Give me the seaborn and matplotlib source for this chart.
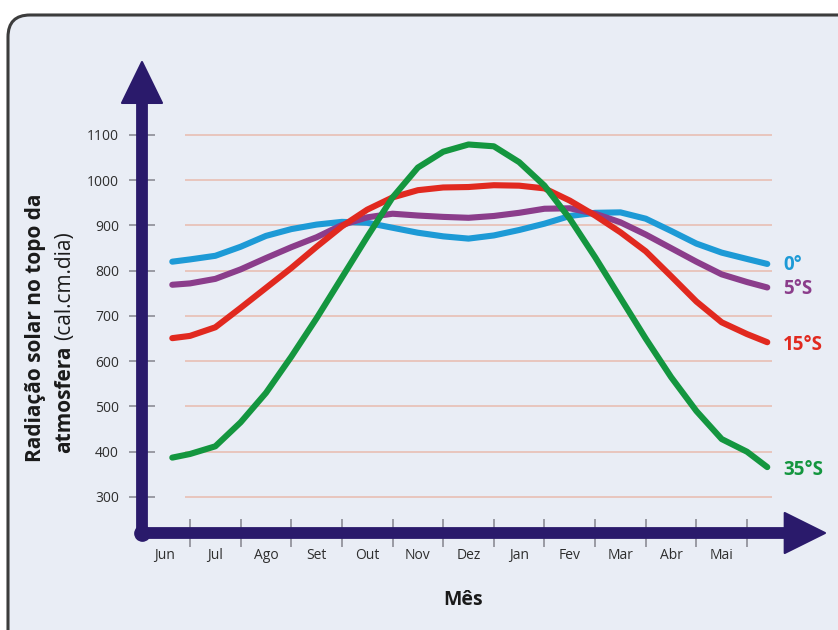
import numpy as np
import pandas as pd
import seaborn as sns
import matplotlib
matplotlib.use('Agg')
import matplotlib.pyplot as plt
from matplotlib.patches import FancyBboxPatch, Polygon

sns.set_style('white')
plt.rcParams['font.family'] = ['Open Sans', 'DejaVu Sans']

months = ['Jun', 'Jul', 'Ago', 'Set', 'Out', 'Nov', 'Dez', 'Jan', 'Fev', 'Mar', 'Abr', 'Mai']
# position in the year, in months (0 = middle of June)
pos = [0.15, 0.5, 1.0, 1.5, 2.0, 2.5, 3.0, 3.5, 4.0, 4.5, 5.0, 5.5, 6.0,
       6.5, 7.0, 7.5, 8.0, 8.5, 9.0, 9.5, 10.0, 10.5, 11.0, 11.5, 11.9]

lat_0 = [820, 825, 833, 853, 877, 892, 902, 908, 906, 895, 884, 876, 871,
         878, 890, 904, 921, 928, 929, 915, 888, 860, 840, 826, 815]
lat_5 = [769, 772, 782, 803, 828, 852, 874, 901, 918, 926, 922, 919, 917,
         921, 928, 937, 938, 926, 907, 880, 850, 820, 792, 775, 763]
lat_15 = [651, 656, 675, 718, 762, 806, 853, 898, 935, 962, 978, 984, 985,
          989, 988, 982, 955, 922, 885, 843, 788, 732, 686, 660, 642]
lat_35 = [387, 395, 412, 465, 530, 610, 695, 785, 875, 962, 1028, 1063, 1079,
          1075, 1040, 988, 915, 830, 740, 650, 565, 490, 428, 400, 366]

series = ['0°', '5°S', '15°S', '35°S']
colors = ['#1d9ad6', '#8b3d8b', '#e1291f', '#14963f']
label_y = [812, 760, 636, 360]
yticks = [300, 400, 500, 600, 700, 800, 900, 1000, 1100]

navy = '#2a1a6b'
grey_text = '#2e2e2e'

df = pd.DataFrame({
    'Mês': pos * 4,
    'Radiação': lat_0 + lat_5 + lat_15 + lat_35,
    'Latitude': np.repeat(series, len(pos)),
})

fig = plt.figure(figsize=(8.38, 6.3), dpi=100)
fig.patch.set_facecolor('white')

# rounded panel behind the chart
fig.patches.append(FancyBboxPatch(
    (8, -40), 900, 655,
    boxstyle='round,pad=0,rounding_size=22',
    transform=None, facecolor='#e9edf5', edgecolor='#3c3c3c', lw=2.2,
    zorder=-5,
))

ax = fig.add_axes([142 / 838, 97 / 630, 683 / 838, 471 / 630])
ax.patch.set_alpha(0)

sns.lineplot(
    data=df, x='Mês', y='Radiação', hue='Latitude',
    hue_order=series, palette=colors, legend=False,
    linewidth=4.4, solid_capstyle='round', solid_joinstyle='round',
    ax=ax, zorder=3,
)

ax.set_xlim(-0.448, 13.04)
ax.set_ylim(220.4, 1261.3)

ax.hlines(yticks, 0.4, 12.0, colors='#e8c5bd', lw=1.4, zorder=1)

for s in ax.spines.values():
    s.set_visible(False)

ax.set_yticks(yticks)
ax.set_yticklabels([str(v) for v in yticks])
ax.tick_params(axis='y', left=True, direction='inout', length=19, width=1.2,
               color='#8c8c96', labelsize=10, labelcolor=grey_text, pad=7)

ax.set_xticks(np.arange(12) + 0.5)
ax.set_xticklabels([])
ax.set_xticks(np.arange(12), minor=True)
ax.set_xticklabels(months, minor=True)
ax.tick_params(axis='x', which='major', bottom=True, direction='inout',
               length=20, width=1.2, color='#8c8c96')
ax.tick_params(axis='x', which='minor', bottom=True, length=0, labelsize=10,
               labelcolor=grey_text, pad=11)
ax.set_xlabel('')
ax.set_ylabel('')

# axis arrows
ax.plot([0, 0, 0.95], [0.93, 0, 0], transform=ax.transAxes, color=navy,
        lw=8.5, solid_joinstyle='round', solid_capstyle='butt',
        clip_on=False, zorder=4)
ax.plot([0], [0], 'o', ms=11, color=navy, transform=ax.transAxes,
        clip_on=False, zorder=4)
ax.add_patch(Polygon([(-0.0293, 0.913), (0.0293, 0.913), (0, 1.0)],
                     closed=True, transform=ax.transAxes, color=navy,
                     lw=1.5, joinstyle='round', clip_on=False, zorder=4))
ax.add_patch(Polygon([(0.941, -0.0425), (0.941, 0.0425), (1.0, 0)],
                     closed=True, transform=ax.transAxes, color=navy,
                     lw=1.5, joinstyle='round', clip_on=False, zorder=4))

for name, c, v in zip(series, colors, label_y):
    ax.text(12.21, v, name, color=c, fontsize=13.5, fontweight='bold',
            ha='left', va='center', clip_on=False)

fig.text(463 / 838, 1 - 600 / 630, 'Mês', fontsize=14, fontweight='bold',
         ha='center', va='center', color='#1a1a1a')

fig.text(35 / 838, 1 - 328 / 630, 'Radiação solar no topo da', rotation=90,
         fontsize=15, fontweight='bold', ha='center', va='center',
         color='#1a1a1a')
t1 = fig.text(65 / 838, 1 - 453 / 630, 'atmosfera', rotation=90,
              fontsize=15, fontweight='bold', ha='center', va='bottom',
              color='#1a1a1a')
fig.canvas.draw()
bb = t1.get_window_extent()
fig.text(65 / 838, (bb.y1 + 5) / 630, '(cal.cm.dia)', rotation=90,
         fontsize=15, ha='center', va='bottom', color='#1a1a1a')

fig.savefig('out.png', dpi=100, facecolor=fig.get_facecolor())
